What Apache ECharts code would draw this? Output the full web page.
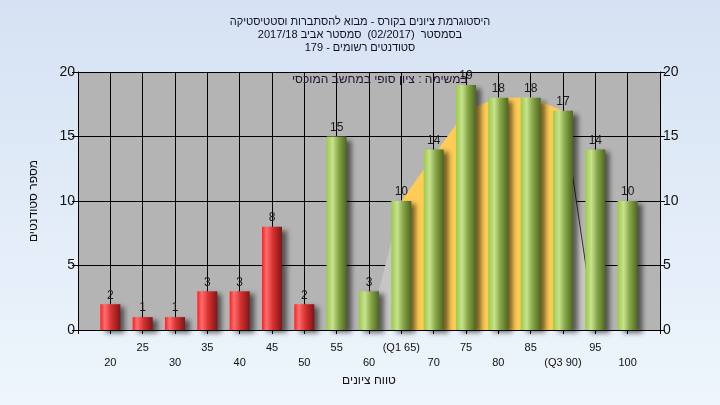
<!DOCTYPE html>
<html>
<head>
<meta charset="utf-8">
<script src="https://cdn.jsdelivr.net/npm/echarts@6/dist/echarts.min.js"></script>
<style>html,body{margin:0;padding:0;}#c{width:720px;height:405px;}</style>
</head>
<body>
<div id="c"></div>
<script>
// ---- data ----
var grades = [20, 25, 30, 35, 40, 45, 50, 55, 60, 65, 70, 75, 80, 85, 90, 95, 100];
var counts = [2, 1, 1, 3, 3, 8, 2, 15, 3, 10, 14, 19, 18, 18, 17, 14, 10];
var tickLabels = ['20','25','30','35','40','45','50','55','60','(Q1 65)','70','75','80','85','(Q3 90)','95','100'];
var passGrade = 55;
var curveX = [60, 65, 70, 75, 80, 85, 90, 95];
var curveY = [0, 10, 13.5, 17, 18, 18, 17, 0];
var q1 = 65, q3 = 90;
var titleLines = ['היסטוגרמת ציונים בקורס - מבוא להסתברות וסטטיסטיקה',
                  'בסמסטר  (02/2017)  סמסטר אביב 2017/18',
                  'סטודנטים רשומים - 179'];
var noteText = 'במשימה : ציון סופי במחשב המוכסי';
var xName = 'טווח ציונים';
var yName = 'מספר סטודנטים';

var FONT = 'Liberation Sans, Arial, sans-serif';
var chart = echarts.init(document.getElementById('c'));

function grad(stops){
  return new echarts.graphic.LinearGradient(0,0,1,0, stops.map(function(s){return {offset:s[0], color:s[1]};}));
}
var redGrad = grad([[0,'#ff1e1e'],[0.22,'#ff6e6e'],[0.55,'#d83030'],[1,'#7e1616']]);
var greenGrad = grad([[0,'#9ccb45'],[0.3,'#c8e290'],[0.6,'#86a645'],[1,'#4e6622']]);

var barData = grades.map(function(g,i){
  return {value:[g, counts[i]], itemStyle:{color: g < passGrade ? redGrad : greenGrad}};
});
var grayCurve = curveX.map(function(x,i){return [x, curveY[i]];});
var iqrCurve = grayCurve.filter(function(p){return p[0] >= q1 && p[0] <= q3;});
var tailLine = grayCurve.filter(function(p){return p[0] >= q3;});

var labelMap = {};
grades.forEach(function(g,i){ labelMap[g] = tickLabels[i]; });

var yAxisCommon = {
  type:'value', min:0, max:20, interval:5,
  axisLine:{show:true, lineStyle:{color:'#000', width:1}},
  axisTick:{show:true, length:6, lineStyle:{color:'#000'}},
  axisLabel:{fontSize:14, color:'#111', fontFamily:FONT, margin:3}
};

chart.setOption({
  backgroundColor: new echarts.graphic.LinearGradient(0,0,0,1,[{offset:0,color:'#d5e2f3'},{offset:1,color:'#eef5fc'}]),
  animation:false,
  title:{
    text: titleLines.join('\n'),
    left:'center', top:10,
    textStyle:{fontSize:11, fontWeight:'normal', color:'#10102a', fontFamily:FONT, lineHeight:13}
  },
  grid:{left:78, right:60, top:72, bottom:75, show:true, backgroundColor:'#b4b4b4', borderWidth:0},
  xAxis:{
    type:'value', min:15, max:105, interval:5,
    name:xName, nameLocation:'middle', nameGap:45,
    nameTextStyle:{fontSize:12, color:'#111', fontFamily:FONT},
    axisLine:{show:true, onZero:false, lineStyle:{color:'#000', width:1}},
    axisTick:{show:true, length:4, lineStyle:{color:'#000'}},
    splitLine:{show:true, lineStyle:{color:'#000', width:1}},
    axisLabel:{
      fontSize:11, color:'#111', fontFamily:FONT, margin:10, lineHeight:15,
      showMinLabel:true, showMaxLabel:true,
      formatter:function(v){
        var t = labelMap[v];
        if (t === undefined) return '';
        return (v % 10 === 0) ? '\n' + t : t;
      }
    }
  },
  yAxis:[
    Object.assign({}, yAxisCommon, {
      position:'left', name:yName, nameLocation:'middle', nameGap:38,
      nameTextStyle:{fontSize:12, color:'#111', fontFamily:FONT},
      splitLine:{show:true, lineStyle:{color:'#000', width:1}}
    }),
    Object.assign({}, yAxisCommon, {position:'right', splitLine:{show:false},
      axisTick:{show:true, length:5, lineStyle:{color:'#000'}}})
  ],
  graphic:[{
    type:'text', left:292, top:74, z:100,
    style:{text:noteText, fontSize:12, fill:'#201030', fontFamily:FONT}
  }],
  series:[
    {type:'line', data:grayCurve, symbol:'none', z:1,
     lineStyle:{width:0}, areaStyle:{color:'#c6c6c6', opacity:1}},
    {type:'line', data:iqrCurve, symbol:'none', z:2,
     lineStyle:{width:0}, areaStyle:{color:'#ffcc55', opacity:1}},
    {type:'line', data:tailLine, symbol:'none', z:3,
     lineStyle:{width:1, color:'#333'}},
    {type:'bar', data:barData, barWidth:20, z:5,
     itemStyle:{shadowColor:'rgba(0,0,0,0.55)', shadowBlur:5, shadowOffsetX:5, shadowOffsetY:3},
     label:{show:true, position:'top', distance:3, fontSize:12, color:'#1a1a1a', fontFamily:FONT,
       formatter:function(p){return p.value[1];}}}
  ]
});
</script>
</body>
</html>
